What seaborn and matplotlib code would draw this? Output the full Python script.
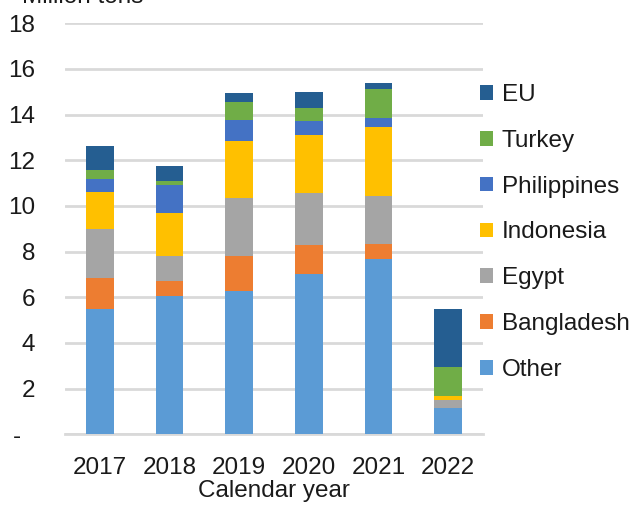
import matplotlib
matplotlib.use("Agg")
import matplotlib.pyplot as plt
import matplotlib.transforms as mtransforms
from matplotlib.patches import Patch
import seaborn as sns

# Exports by destination, million tons
years = ["2017", "2018", "2019", "2020", "2021", "2022"]
other = [5.50, 6.07, 6.28, 7.03, 7.66, 1.14]
bangladesh = [1.35, 0.64, 1.53, 1.24, 0.69, 0.00]
egypt = [2.13, 1.10, 2.55, 2.29, 2.10, 0.38]
indonesia = [1.65, 1.90, 2.49, 2.55, 3.00, 0.17]
philippines = [0.55, 1.19, 0.93, 0.63, 0.42, 0.00]
turkey = [0.41, 0.19, 0.76, 0.57, 1.25, 1.24]
eu = [1.02, 0.67, 0.41, 0.67, 0.28, 2.56]

series_names = ["Other", "Bangladesh", "Egypt", "Indonesia", "Philippines", "Turkey", "EU"]
series_values = [other, bangladesh, egypt, indonesia, philippines, turkey, eu]
series_colors = ["#5B9BD5", "#ED7D31", "#A5A5A5", "#FFC000", "#4472C4", "#70AD47", "#255E91"]

y_ticks = [0, 2, 4, 6, 8, 10, 12, 14, 16, 18]
y_tick_labels = ["-", "2", "4", "6", "8", "10", "12", "14", "16", "18"]

sns.set_theme(style="white")
plt.rcParams["font.family"] = ["Liberation Sans", "DejaVu Sans"]
FS = 17.5

fig = plt.figure(figsize=(6.37, 5.05), dpi=100)
ax = fig.add_axes([65 / 637, 1 - 434.3 / 505, 418 / 637, (434.3 - 23.3) / 505])

bottom = [0.0] * len(years)
for name, vals, col in zip(series_names, series_values, series_colors):
    sns.barplot(x=years, y=vals, bottom=bottom, color=col, width=0.4,
                errorbar=None, ax=ax, saturation=1, linewidth=0, zorder=3)
    bottom = [b + v for b, v in zip(bottom, vals)]

ax.set_ylim(0, 18)
ax.set_xlim(-0.5, len(years) - 0.5)
ax.set_yticks(y_ticks)
ax.set_yticklabels(y_tick_labels)
ax.yaxis.grid(True, color="#D9D9D9", linewidth=2, zorder=0)
ax.xaxis.grid(False)
for side in ["top", "right", "left"]:
    ax.spines[side].set_visible(False)
ax.spines["bottom"].set_color("#D9D9D9")
ax.spines["bottom"].set_linewidth(2)
ax.set_axisbelow(True)

ax.tick_params(axis="y", length=0, pad=30 * 72 / 100, labelsize=FS, labelcolor="#1a1a1a")
ax.tick_params(axis="x", length=0, pad=23 * 72 / 100, labelsize=FS, labelcolor="#1a1a1a")

# The zero label sits further left, like an accounting number format
zero_label = ax.get_yticklabels()[0]
zero_label.set_transform(zero_label.get_transform()
                         + mtransforms.ScaledTranslation(-14 / 100, 0, fig.dpi_scale_trans))

ax.set_xlabel("Calendar year", fontsize=FS, color="#1a1a1a", labelpad=0.5)
ax.set_ylabel("")

fig.text(22 / 637, 1 - 3 / 505, "Million tons", fontsize=FS, color="#1a1a1a",
         ha="left", va="baseline")

handles = [Patch(facecolor=c, edgecolor="none", label=n)
           for n, c in zip(series_names, series_colors)][::-1]
leg = fig.legend(handles=handles, loc="upper left",
                 bbox_to_anchor=(480 / 637, 1 - 84 / 505),
                 frameon=False, fontsize=FS, handlelength=0.55, handleheight=0.55,
                 handletextpad=0.35, labelspacing=0.98, borderaxespad=0, borderpad=0)
for t in leg.get_texts():
    t.set_color("#1a1a1a")

fig.savefig("out.png", dpi=100)
